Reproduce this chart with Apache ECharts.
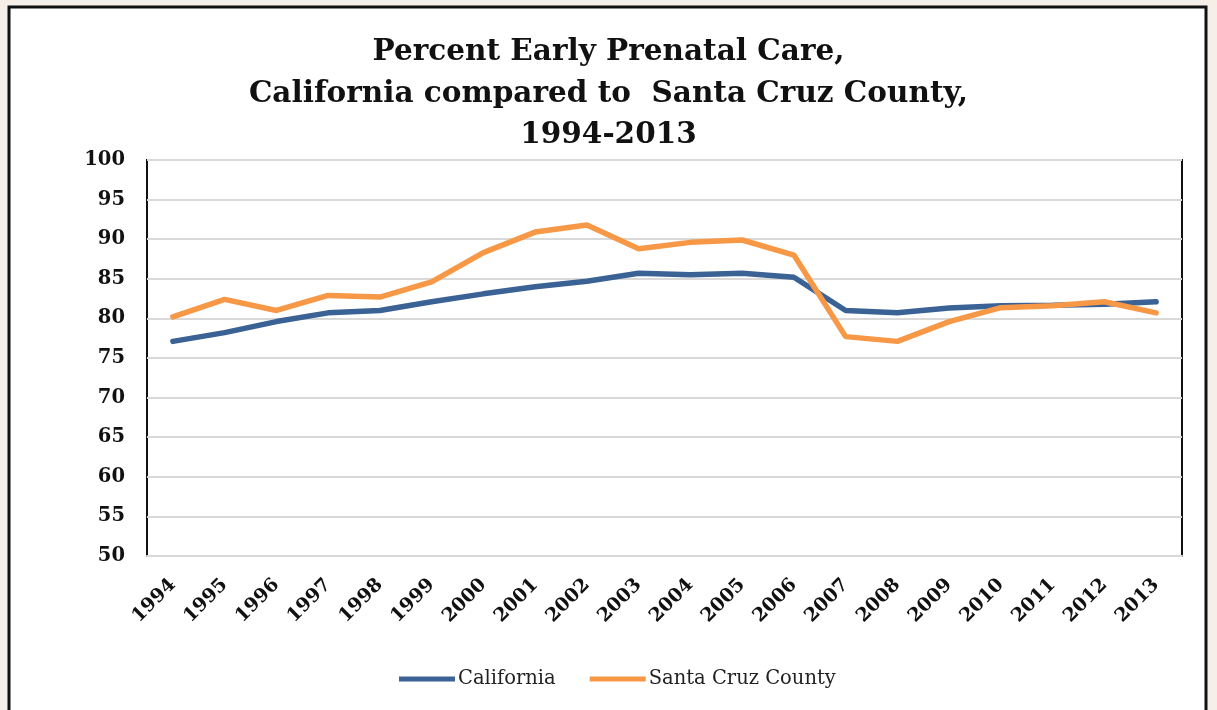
<!DOCTYPE html>
<html>
<head>
<meta charset="utf-8">
<script src="https://cdn.jsdelivr.net/npm/echarts@6/dist/echarts.min.js"></script>
<style>
html,body{margin:0;padding:0;background:#f6efe9;}
#chart{width:1217px;height:710px;}
</style>
</head>
<body>
<div id="chart"></div>
<script>
const years = ['1994','1995','1996','1997','1998','1999','2000','2001','2002','2003','2004','2005','2006','2007','2008','2009','2010','2011','2012','2013'];
const california = [77.1,78.2,79.6,80.7,81.0,82.1,83.1,84.0,84.7,85.7,85.5,85.7,85.2,81.0,80.7,81.3,81.6,81.65,81.8,82.1];
const santaCruz = [80.2,82.4,81.0,82.9,82.7,84.6,88.3,90.9,91.8,88.8,89.6,89.9,88.0,77.7,77.1,79.6,81.35,81.6,82.1,80.7];
const titleText = 'Percent Early Prenatal Care,\nCalifornia compared to  Santa Cruz County,\n1994-2013';

const chart = echarts.init(document.getElementById('chart'));
const serif = '"DejaVu Serif", "Liberation Serif", serif';
chart.setOption({
  backgroundColor: '#f6efe9',
  animation: false,
  graphic: [{
    type: 'rect', z: -10,
    shape: {x: 9, y: 7, width: 1197, height: 720},
    style: {fill: '#ffffff', stroke: '#111', lineWidth: 3}
  }],
  title: {
    text: titleText,
    left: 'center', top: 27,
    textStyle: {fontFamily: serif, fontWeight: 'bold', fontSize: 29.5, lineHeight: 41.5, color: '#111'}
  },
  legend: {
    bottom: 16, left: 394,
    icon: 'rect', itemWidth: 56, itemHeight: 5, itemGap: 34,
    textStyle: {fontFamily: serif, fontSize: 19.5, color: '#222', padding: [0,0,0,-2]},
    data: ['California', 'Santa Cruz County']
  },
  grid: {
    left: 147, top: 160, right: 35, bottom: 154,
    show: true, borderColor: '#111', borderWidth: 2, backgroundColor: 'transparent'
  },
  xAxis: {
    type: 'category', data: years, boundaryGap: true,
    axisLine: {lineStyle: {color: '#d9d9d9', width: 2}},
    axisTick: {show: false},
    axisLabel: {rotate: 45, margin: 26, fontFamily: serif, fontWeight: 'bold', fontSize: 19, color: '#111'}
  },
  yAxis: {
    type: 'value', min: 50, max: 100, interval: 5,
    axisLine: {show: false}, axisTick: {show: false},
    splitLine: {lineStyle: {color: '#d9d9d9', width: 2}},
    axisLabel: {margin: 22, fontFamily: serif, fontWeight: 'bold', fontSize: 19.5, color: '#111'}
  },
  series: [
    {name: 'California', type: 'line', data: california, showSymbol: false, symbol: 'none',
     lineStyle: {color: '#3a6295', width: 5.5, cap: 'round'}, itemStyle: {color: '#3a6295'}},
    {name: 'Santa Cruz County', type: 'line', data: santaCruz, showSymbol: false, symbol: 'none',
     lineStyle: {color: '#f79847', width: 5.5, cap: 'round'}, itemStyle: {color: '#f79847'}}
  ]
});
</script>
</body>
</html>
